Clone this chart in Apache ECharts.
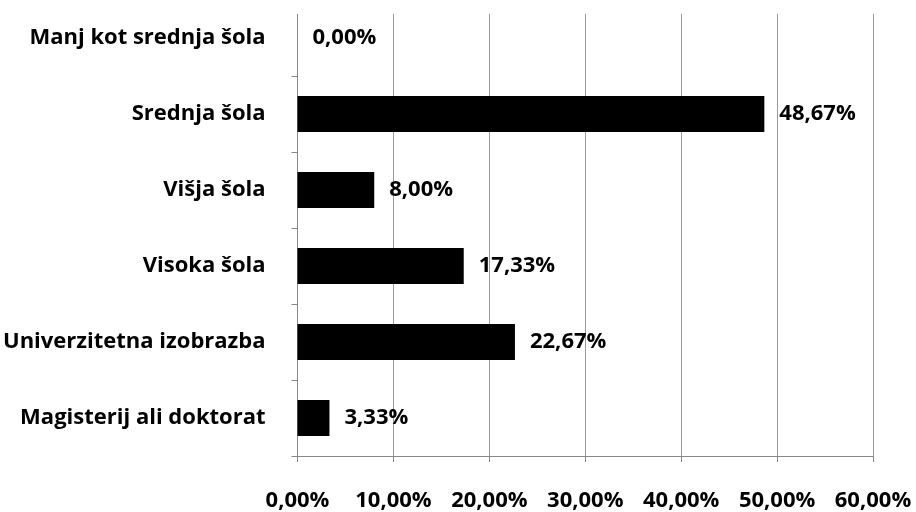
<!DOCTYPE html>
<html lang="sl">
<head>
<meta charset="UTF-8">
<title>Izobrazba</title>
<script src="https://cdn.jsdelivr.net/npm/echarts@6/dist/echarts.min.js"></script>
</head>
<body style="margin:0;background:#fff;">
<div id="chart" style="width:916px;height:512px;"></div>
<script>
// podatki
var categories = ['Manj kot srednja šola', 'Srednja šola', 'Višja šola', 'Visoka šola', 'Univerzitetna izobrazba', 'Magisterij ali doktorat'];
var values = [0.00, 48.67, 8.00, 17.33, 22.67, 3.33];

var font = '"Open Sans", Lato, sans-serif';
function pct(v) { return v.toFixed(2).replace('.', ',') + '%'; }

var myChart = echarts.init(document.getElementById('chart'));
var option = {
    animation: false,
    backgroundColor: '#fff',
    grid: { left: 297, right: 43, top: -4, bottom: 55 },
    xAxis: {
        type: 'value',
        min: 0,
        max: 60,
        interval: 10,
        axisLine: { show: true, lineStyle: { color: '#888', width: 1 } },
        axisTick: { show: true, length: 6, lineStyle: { color: '#888' } },
        splitLine: { show: true, lineStyle: { color: '#999', width: 1 } },
        axisLabel: {
            margin: 34,
            color: '#000',
            fontFamily: font,
            fontWeight: 'bold',
            fontSize: 22,
            formatter: function (v) { return pct(v); }
        }
    },
    yAxis: {
        type: 'category',
        inverse: true,
        data: categories,
        axisLine: { show: true, lineStyle: { color: '#888', width: 1 } },
        axisTick: { show: true, length: 6, lineStyle: { color: '#888' } },
        axisLabel: {
            margin: 32,
            color: '#000',
            fontFamily: font,
            fontWeight: 'bold',
            fontSize: 22
        }
    },
    series: [{
        type: 'bar',
        data: values,
        barWidth: 36,
        itemStyle: { color: '#000' },
        label: {
            show: true,
            position: 'right',
            distance: 15,
            color: '#000',
            fontFamily: font,
            fontWeight: 'bold',
            fontSize: 22,
            formatter: function (p) { return pct(p.value); }
        }
    }],
    graphic: [{
        type: 'rect',
        left: 0, top: 0,
        shape: { width: 916, height: 14 },
        style: { fill: '#fff' },
        z: 100
    }]
};
myChart.setOption(option);
</script>
</body>
</html>
